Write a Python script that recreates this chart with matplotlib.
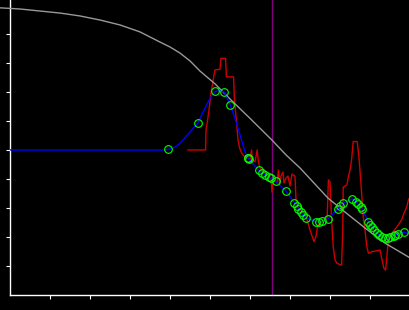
import matplotlib
matplotlib.use("Agg")
import matplotlib.pyplot as plt

# gray reference curve (smooth envelope)
ref_x = [-2.5, 2.5, 7.5, 12.5, 17.5, 22.5, 27.5, 32.5, 37.5, 40.0, 42.5, 45.0,
         47.5, 51.25, 55.5, 60.0, 65.5, 69.0, 72.5, 79.5, 83.75, 88.75, 93.75, 100]
ref_y = [99.0, 98.6, 97.9, 97.2, 96.2, 94.8, 93.1, 90.7, 87.2, 85.5, 83.4, 80.7,
         77.2, 72.8, 66.9, 60.9, 53.4, 48.3, 43.8, 33.4, 28.6, 23.1, 17.9, 12.8]

# red raw signal
raw_x = [44.5, 48.9, 49.0, 49.4, 49.75, 50.25, 50.6, 51.0, 51.25, 52.5, 52.75, 53.9,
         54.1, 55.9, 56.1, 56.6, 57.0, 57.4, 57.9, 58.5, 59.25, 60.0, 60.4, 60.6,
         61.25, 61.8, 62.1, 62.5, 63.25, 64.0, 64.75, 65.25, 65.5, 65.75, 66.25, 66.75,
         67.1, 67.4, 67.75, 68.25, 68.5, 69.0, 69.5, 70.0, 70.5, 71.25, 71.5, 71.9,
         72.5, 73.25, 74.0, 74.5, 75.0, 75.6, 76.0, 76.5, 76.9, 77.5, 78.75, 79.3,
         79.6, 80.0, 80.4, 80.8, 81.25, 81.75, 82.9, 83.2, 83.3, 84.2, 84.6, 85.0,
         85.4, 85.8, 86.8, 87.3, 87.9, 88.3, 88.75, 89.2, 89.6, 90.4, 92.5, 92.9,
         93.5, 93.9, 94.2, 94.6, 95.4, 96.7, 97.9, 98.5, 99.2, 99.6, 100.0]
raw_y = [50.0, 50.0, 56.9, 60.3, 63.8, 69.7, 72.4, 75.9, 77.6, 77.8, 81.6, 81.6,
         75.2, 75.2, 67.2, 60.3, 53.4, 50.7, 49.0, 47.9, 47.2, 46.9, 50.0, 46.6,
         45.9, 50.0, 45.9, 43.8, 42.4, 41.7, 41.0, 40.3, 35.5, 39.0, 39.3, 38.6,
         43.1, 37.9, 41.0, 42.4, 38.6, 40.3, 41.0, 37.6, 41.7, 41.0, 32.8, 30.3,
         29.3, 28.6, 26.9, 24.8, 22.4, 20.0, 18.4, 20.2, 23.8, 24.8, 25.9, 27.0,
         39.7, 39.0, 25.9, 16.7, 12.1, 10.9, 10.3, 23.4, 37.2, 37.9, 40.7, 43.1,
         46.6, 52.9, 52.9, 46.6, 35.2, 27.0, 22.4, 16.7, 14.4, 14.9, 15.5, 12.8,
         9.1, 8.6, 13.1, 19.0, 21.3, 23.4, 25.9, 28.2, 30.4, 32.8, 33.8]

# blue fitted curve
fit_x = [0, 38.75, 39.6, 41.25, 42.5, 45.0, 46.9, 48.75, 50.0, 51.3, 52.5, 53.6,
         55.1, 56.25, 57.5, 58.75, 59.4, 59.6, 59.75, 62.2, 62.9, 63.75, 64.8, 65.25,
         66.4, 68.9, 71.1, 71.7, 72.1, 72.75, 73.3, 74.0, 76.5, 77.3, 77.9, 79.4,
         82.0, 82.6, 83.3, 85.6, 86.4, 87.05, 87.75, 88.1, 89.6, 90.1, 90.6, 91.1,
         91.7, 92.3, 93.05, 93.8, 94.5, 95.1, 95.9, 96.25, 97.1, 98.4, 100]
fit_y = [50.0, 50.0, 50.2, 51.0, 52.3, 56.2, 59.2, 64.4, 67.8, 70.2, 70.5, 69.9,
         65.4, 60.9, 55.2, 49.4, 47.4, 47.1, 46.8, 43.0, 42.2, 41.5, 40.8, 40.3,
         39.2, 36.0, 31.8, 30.6, 29.6, 28.5, 27.6, 26.6, 25.2, 25.2, 25.5, 26.2,
         29.8, 30.8, 31.7, 33.1, 32.2, 31.3, 30.4, 29.5, 25.2, 24.3, 23.4, 22.3,
         21.5, 20.8, 20.1, 19.7, 19.7, 19.9, 20.5, 20.7, 21.2, 21.7, 21.0]

# green sample points
pts_x = [39.6, 46.9, 51.3, 53.6, 55.1, 59.4, 59.6, 59.75, 62.2, 62.9, 63.75, 64.8,
         65.25, 66.4, 68.9, 71.1, 71.7, 72.1, 72.75, 73.3, 74.0, 76.5, 77.3, 77.9,
         79.4, 82.0, 82.6, 83.3, 85.6, 86.4, 87.05, 87.75, 88.1, 89.6, 90.1, 90.6,
         91.1, 91.7, 92.3, 93.05, 93.8, 94.5, 95.1, 95.9, 96.25, 97.1, 98.4]
pts_y = [50.2, 59.2, 70.2, 69.9, 65.4, 47.4, 47.1, 46.8, 43.0, 42.2, 41.5, 40.8,
         40.3, 39.2, 36.0, 31.8, 30.6, 29.6, 28.5, 27.6, 26.6, 25.2, 25.2, 25.5,
         26.2, 29.8, 30.8, 31.7, 33.1, 32.2, 31.3, 30.4, 29.5, 25.2, 24.3, 23.4,
         22.3, 21.5, 20.8, 20.1, 19.7, 19.7, 19.9, 20.5, 20.7, 21.2, 21.7]

marker_pos = 65.5  # purple vertical line

fig = plt.figure(figsize=(4.1, 3.1), dpi=100, facecolor="black")
ax = fig.add_axes([10 / 410, 15 / 310, 400 / 410, 295 / 310])
ax.set_facecolor("black")

ax.axvline(marker_pos, color="#800080", lw=1, zorder=1)
ax.plot(raw_x, raw_y, color="#cc0000", lw=1, zorder=2)
ax.plot(ref_x, ref_y, color="#999999", lw=1, zorder=3, clip_on=False)
ax.plot(fit_x, fit_y, color="#0000ff", lw=1, zorder=4)
ax.plot(pts_x, pts_y, linestyle="none", marker="o", markersize=5.5,
        markerfacecolor="none", markeredgecolor="#00ff00", markeredgewidth=0.8, zorder=5)

ax.set_xlim(0, 100)
ax.set_ylim(0, 101.7)
ax.set_xticks(range(10, 100, 10))
ax.set_yticks(range(10, 100, 10))
ax.set_xticklabels([])
ax.set_yticklabels([])
ax.tick_params(colors="white", length=3, width=0.8, direction="out")
for side in ["top", "right"]:
    ax.spines[side].set_visible(False)
for side in ["left", "bottom"]:
    ax.spines[side].set_color("white")
    ax.spines[side].set_linewidth(1)

fig.savefig("out.png", dpi=100, facecolor="black")
